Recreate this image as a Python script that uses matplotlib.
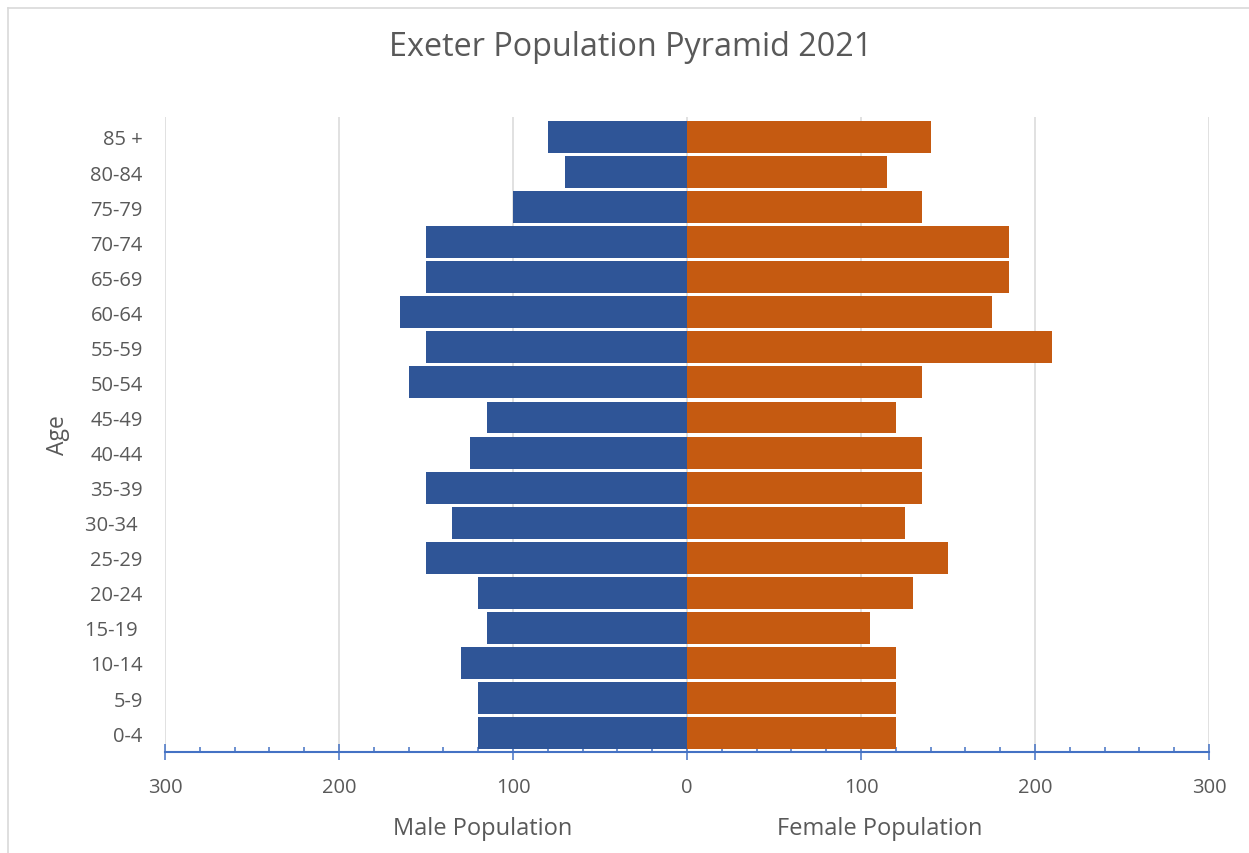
import matplotlib
matplotlib.use("Agg")
import matplotlib.pyplot as plt
from matplotlib.ticker import FuncFormatter, MultipleLocator
from matplotlib.lines import Line2D

# age groups, bottom to top
age_groups = ["0-4", "5-9", "10-14", "15-19 ", "20-24", "25-29", "30-34 ", "35-39",
              "40-44", "45-49", "50-54", "55-59", "60-64", "65-69", "70-74",
              "75-79", "80-84", "85 +"]
male = [120, 120, 130, 115, 120, 150, 135, 150, 125, 115, 160, 150, 165, 150, 150,
        100, 70, 80]
female = [120, 120, 120, 105, 130, 150, 125, 135, 135, 120, 135, 210, 175, 185, 185,
          135, 115, 140]

BLUE = "#2F5597"
ORANGE = "#C55A11"
AXIS_BLUE = "#4472C4"
TEXT = "#595959"
GRID = "#D9D9D9"

W, H = 1249, 854

plt.rcParams["font.family"] = ["Open Sans", "DejaVu Sans"]

fig = plt.figure(figsize=(W / 100, H / 100), dpi=100)
ax = fig.add_axes([165 / W, 1 - 753 / H, 1044 / W, 635 / H])

y = list(range(len(age_groups)))
ax.barh(y, [-v for v in male], height=0.91, color=BLUE, zorder=3)
ax.barh(y, female, height=0.91, color=ORANGE, zorder=3)

ax.set_xlim(-300, 300)
ax.set_ylim(-0.54, 17.57)
ax.set_yticks(y)
ax.set_yticklabels(age_groups)
ax.xaxis.set_major_locator(MultipleLocator(100))
ax.xaxis.set_minor_locator(MultipleLocator(20))
ax.xaxis.set_major_formatter(FuncFormatter(lambda v, p: f"{abs(int(v))}"))

ax.grid(axis="x", which="major", color=GRID, linewidth=1.1, zorder=0)
for s in ["top", "right", "left"]:
    ax.spines[s].set_visible(False)
ax.spines["bottom"].set_color(AXIS_BLUE)
ax.spines["bottom"].set_linewidth(1.5)
ax.spines["bottom"].set_zorder(4)

ax.tick_params(axis="y", length=0, pad=16, labelsize=14.5, labelcolor=TEXT)
ax.tick_params(axis="x", which="major", direction="inout", length=11.5, width=1.1,
               color=AXIS_BLUE, pad=12, labelsize=14.5, labelcolor=TEXT)
ax.tick_params(axis="x", which="minor", direction="in", length=3.6, width=1.1,
               color=AXIS_BLUE)

ax.set_ylabel("Age", fontsize=16.5, color=TEXT)
ax.yaxis.set_label_coords(-0.091, 0.5)

fig.text(631 / W, 1 - 56 / H, "Exeter Population Pyramid 2021", ha="center",
         va="baseline", fontsize=23.3, color=TEXT)
fig.text(483 / W, 1 - 835 / H, "Male Population", ha="center", va="baseline",
         fontsize=17, color=TEXT)
fig.text(880 / W, 1 - 835 / H, "Female Population", ha="center", va="baseline",
         fontsize=17, color=TEXT)

# chart-area border (cropped on right and bottom)
fig.add_artist(Line2D([8 / W, 1], [1 - 8.5 / H, 1 - 8.5 / H],
                      transform=fig.transFigure, color=GRID, linewidth=1.2))
fig.add_artist(Line2D([8 / W, 8 / W], [0, 1 - 8.5 / H],
                      transform=fig.transFigure, color=GRID, linewidth=1.2))

fig.savefig("out.png", dpi=100)
